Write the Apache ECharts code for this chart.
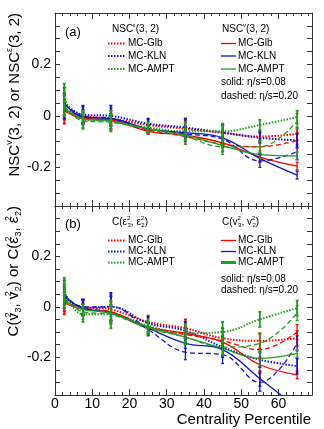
<!DOCTYPE html>
<html>
<head>
<meta charset="utf-8">
<script src="https://cdn.jsdelivr.net/npm/echarts@6/dist/echarts.min.js"></script>
<style>
html, body { margin: 0; padding: 0; background: #fff; }
#main { width: 324px; height: 429px; }
</style>
</head>
<body>
<div id="main"></div>
<script>
"use strict"

// centrality bins (x) and tick labels
const centrality = [2.5, 7.5, 15, 25, 35, 45, 55, 65];
const xTickLabels = [0, 10, 20, 30, 40, 50, 60];
const yTickLabels = [-0.2, 0, 0.2];
const models = ['MC-Glb', 'MC-KLN', 'MC-AMPT'];

// panel (a): NSC^eps(3,2) (dotted), NSC^v(3,2) eta/s=0.08 (solid), eta/s=0.20 (dashed)
const nscEpsGlb  = [0.03, 0.0, -0.01, -0.035, -0.05, -0.065, -0.08, -0.07];
const nscEpsKln  = [0.05, 0.005, 0.0, -0.03, -0.045, -0.065, -0.085, -0.095];
const nscEpsAmpt = [0.065, -0.015, -0.02, -0.045, -0.06, -0.06, -0.035, -0.005];
const nscV08Glb  = [0.02, -0.01, -0.015, -0.06, -0.075, -0.105, -0.16, -0.195];
const nscV08Kln  = [0.05, -0.005, -0.01, -0.05, -0.065, -0.085, -0.165, -0.23];
const nscV08Ampt = [0.03, -0.01, -0.02, -0.05, -0.075, -0.115, -0.15, -0.155];
const nscV20Glb  = [0.025, -0.005, -0.02, -0.055, -0.08, -0.11, -0.12, -0.095];
const nscV20Kln  = [0.045, 0.0, -0.01, -0.05, -0.07, -0.09, -0.175, -0.14];
const nscV20Ampt = [0.04, -0.02, -0.025, -0.05, -0.08, -0.12, -0.12, -0.02];
const nscEpsErr  = [0.06, 0.035, 0.04, 0.02, 0.035, 0.03, 0.02, 0.025];
const nscV08Err  = [0.03, 0.02, 0.02, 0.01, 0.02, 0.02, 0.015, 0.015];
const nscV20Err  = [0.04, 0.025, 0.03, 0.015, 0.03, 0.03, 0.025, 0.03];

// panel (b): C(eps3^2, eps2^2) (dotted), C(v3^2, v2^2) solid / dashed
const cEpsGlb  = [0.025, 0.0, -0.01, -0.06, -0.085, -0.125, -0.135, -0.125];
const cEpsKln  = [0.05, -0.005, 0.0, -0.065, -0.095, -0.16, -0.21, -0.235];
const cEpsAmpt = [0.06, -0.03, -0.03, -0.075, -0.105, -0.1, -0.05, -0.005];
const cV08Glb  = [0.015, -0.01, -0.02, -0.08, -0.105, -0.14, -0.23, -0.27];
const cV08Kln  = [0.04, -0.005, -0.025, -0.085, -0.145, -0.17, -0.285, -0.40];
const cV08Ampt = [0.025, -0.01, -0.025, -0.08, -0.12, -0.165, -0.205, -0.185];
const cV20Glb  = [0.02, -0.005, -0.02, -0.085, -0.11, -0.135, -0.17, -0.1];
const cV20Kln  = [0.05, 0.0, 0.0, -0.09, -0.18, -0.19, -0.3, -0.145];
const cV20Ampt = [0.035, -0.02, -0.03, -0.085, -0.12, -0.16, -0.145, -0.025];
const cEpsErr  = [0.055, 0.03, 0.055, 0.025, 0.035, 0.04, 0.03, 0.03];
const cV08Err  = [0.03, 0.02, 0.03, 0.02, 0.02, 0.025, 0.03, 0.015];
const cV20Err  = [0.04, 0.03, 0.04, 0.025, 0.03, 0.035, 0.035, 0.03];

const RED = '#ff0000', BLUE = '#1414c8', GREEN = '#1fa01f';
const colors = [RED, BLUE, GREEN];
const FONT = 'Liberation Sans, Arial, sans-serif';
const FRAME = '#333';

const styles = {
    dotted: { width: 2, type: [1.5, 1.5] },
    solid: { width: 1.3, type: 'solid' },
    dashed: { width: 1.3, type: [5, 3] },
};

function lineSeries(vals, color, kind, axis) {
    return {
        type: 'line',
        xAxisIndex: axis, yAxisIndex: axis,
        data: centrality.map(function (x, i) { return [x, vals[i]]; }),
        smooth: 0.4,
        symbol: 'none',
        silent: true,
        z: kind == 'dotted' ? 2 : 3,
        lineStyle: { color: color, width: styles[kind].width, type: styles[kind].type },
    };
}

function errSeries(vals, errs, color, kind, axis) {
    return {
        type: 'custom',
        xAxisIndex: axis, yAxisIndex: axis,
        data: centrality.map(function (x, i) { return [x, vals[i], errs[i]]; }),
        silent: true,
        z: 4,
        renderItem: function (params, api) {
            const x = api.value(0), y = api.value(1), e = api.value(2);
            const top = api.coord([x, y + e]);
            const bot = api.coord([x, y - e]);
            const cs = params.coordSys;
            const y0 = Math.max(top[1], cs.y);
            const y1 = Math.min(bot[1], cs.y + cs.height);
            if (y0 >= y1) return null;
            const cx = top[0], cap = 1.5;
            const st = { stroke: color, lineWidth: kind == 'dotted' ? 1.8 : 1.3 };
            const kids = [{ type: 'line', shape: { x1: cx, y1: y0, x2: cx, y2: y1 }, style: st }];
            if (top[1] >= cs.y) kids.push({ type: 'line', shape: { x1: cx - cap, y1: top[1], x2: cx + cap, y2: top[1] }, style: st });
            if (bot[1] <= cs.y + cs.height) kids.push({ type: 'line', shape: { x1: cx - cap, y1: bot[1], x2: cx + cap, y2: bot[1] }, style: st });
            return { type: 'group', children: kids };
        },
    };
}

function xAx(gridIndex, pos, showLabel) {
    return {
        type: 'value', gridIndex: gridIndex, position: pos,
        min: 0, max: 69, interval: 10,
        axisLine: { show: true, onZero: false, lineStyle: { color: FRAME, width: 1 } },
        axisTick: { show: true, inside: true, length: 6, lineStyle: { color: FRAME } },
        minorTick: { show: true, splitNumber: 5, length: 3, lineStyle: { color: FRAME } },
        axisLabel: {
            show: showLabel, margin: 2, color: '#000', fontSize: 14, fontFamily: FONT,
            formatter: function (v) { return xTickLabels.indexOf(v) >= 0 ? String(v) : ''; }
        },
        splitLine: { show: false },
    };
}

function yAx(gridIndex, pos, showLabel) {
    return {
        type: 'value', gridIndex: gridIndex, position: pos,
        min: -0.35, max: 0.4, interval: 0.05,
        axisLine: { show: true, onZero: false, lineStyle: { color: FRAME, width: 1 } },
        axisTick: { show: true, inside: true, length: 5, lineStyle: { color: FRAME } },
        axisLabel: {
            show: showLabel, margin: 4, color: '#000', fontSize: 14, fontFamily: FONT,
            formatter: function (v) {
                const r = Math.round(v * 100) / 100;
                return yTickLabels.indexOf(r) >= 0 ? String(r) : '';
            }
        },
        splitLine: { show: false },
    };
}

let series = [];
function addPanel(axis, eps, v08, v20, epsErr, v08Err, v20Err) {
    for (let k = 0; k < 3; k++) {
        series.push(lineSeries(eps[k], colors[k], 'dotted', axis));
        series.push(errSeries(eps[k], epsErr, colors[k], 'dotted', axis));
        series.push(lineSeries(v20[k], colors[k], 'dashed', axis));
        series.push(errSeries(v20[k], v20Err, colors[k], 'dashed', axis));
        series.push(lineSeries(v08[k], colors[k], 'solid', axis));
        series.push(errSeries(v08[k], v08Err, colors[k], 'solid', axis));
    }
}
addPanel(0, [nscEpsGlb, nscEpsKln, nscEpsAmpt], [nscV08Glb, nscV08Kln, nscV08Ampt],
    [nscV20Glb, nscV20Kln, nscV20Ampt], nscEpsErr, nscV08Err, nscV20Err);
addPanel(2, [cEpsGlb, cEpsKln, cEpsAmpt], [cV08Glb, cV08Kln, cV08Ampt],
    [cV20Glb, cV20Kln, cV20Ampt], cEpsErr, cV08Err, cV20Err);

// rich text helpers for super/subscripts
function richFor(size) {
    const s = Math.round(size * 0.62);
    return {
        sup: { fontSize: s, lineHeight: s, verticalAlign: 'top', fontFamily: FONT, fill: '#000' },
        ss: { fontSize: s, lineHeight: s, verticalAlign: 'top', width: 0.5, fontFamily: FONT, fill: '#000' },
        sub: { fontSize: s, lineHeight: s, verticalAlign: 'bottom', fontFamily: FONT, fill: '#000' },
    };
}
function txt(x, y, text, size, opts) {
    opts = opts || {};
    return {
        type: 'text', x: x, y: y, rotation: opts.rot || 0, silent: true,
        style: {
            text: text, fontSize: size, fontFamily: FONT, fill: '#000',
            lineHeight: Math.round(size * 1.25),
            align: opts.align || 'left', verticalAlign: 'middle',
            rich: richFor(size),
        },
    };
}

let graphics = [];
function legendBlock(y0, headerL, headerR, rows, solidY, dashedY, greenWide) {
    graphics.push(txt(112, y0, headerL, 10));
    graphics.push(txt(222, y0, headerR, 10));
    for (let k = 0; k < 3; k++) {
        const y = rows[k];
        graphics.push({
            type: 'line', silent: true,
            shape: { x1: 108, y1: y, x2: 126, y2: y },
            style: { stroke: colors[k], lineWidth: 2, lineDash: [1.5, 1.5] },
        });
        graphics.push(txt(128, y, models[k], 10));
        graphics.push({
            type: 'line', silent: true,
            shape: { x1: 221, y1: y, x2: 236, y2: y },
            style: { stroke: colors[k], lineWidth: (k == 2 && greenWide) ? 3 : 1.3 },
        });
        graphics.push(txt(238, y, models[k], 10));
    }
    graphics.push(txt(221, solidY, 'solid: η/s=0.08', 10));
    graphics.push(txt(221, dashedY, 'dashed: η/s=0.20', 10));
}
legendBlock(29, 'NSC{sup|ε}(3, 2)', 'NSC{sup|v}(3, 2)', [43.5, 56, 69], 82, 96, false);
legendBlock(222, 'C(ε{ss|2}{sub|3}, ε{ss|2}{sub|2})', 'C(v{ss|2}{sub|3}, v{ss|2}{sub|2})',
    [240.5, 251.5, 262.5], 279, 290, true);
graphics.push(txt(65, 32, '(a)', 13));
graphics.push(txt(65, 224, '(b)', 13));
graphics.push(txt(15, 13, 'NSC{sup|v}(3, 2) or NSC{sup|ε}(3, 2)', 15, { rot: Math.PI / 2, align: 'right' }));
graphics.push(txt(14, 206, 'C(v{ss|2}{sub|3}, v{ss|2}{sub|2}) or C(ε{ss|2}{sub|3}, ε{ss|2}{sub|2})', 15, { rot: Math.PI / 2, align: 'right' }));
graphics.push(txt(311, 420, 'Centrality Percentile', 15, { align: 'right' }));

const chart = echarts.init(document.getElementById('main'), null, { renderer: 'canvas' });
chart.setOption({
    animation: false,
    backgroundColor: '#fff',
    grid: [
        { left: 55, top: 13, width: 257, height: 193 },
        { left: 55, top: 206, width: 257, height: 189 },
    ],
    xAxis: [xAx(0, 'bottom', false), xAx(0, 'top', false), xAx(1, 'bottom', true), xAx(1, 'top', false)],
    yAxis: [yAx(0, 'left', true), yAx(0, 'right', false), yAx(1, 'left', true), yAx(1, 'right', false)],
    series: series,
    graphic: graphics,
});
</script>
</body>
</html>
